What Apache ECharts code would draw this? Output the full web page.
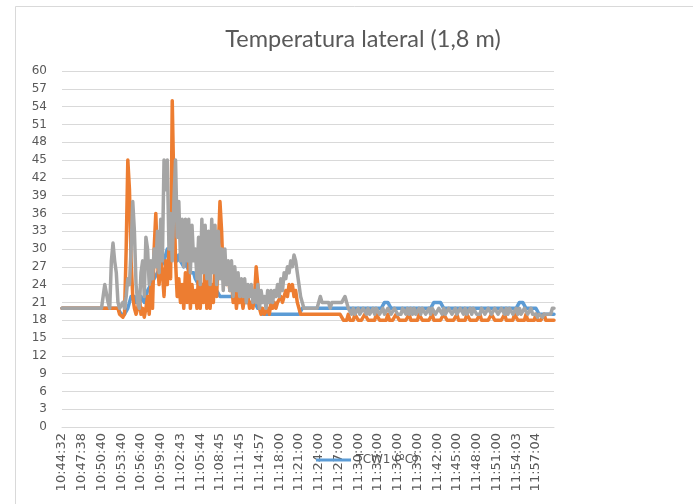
<!DOCTYPE html>
<html>
<head>
<meta charset="utf-8">
<script src="https://cdn.jsdelivr.net/npm/echarts@6/dist/echarts.min.js"></script>
<style>html,body{margin:0;padding:0;background:#fff;}#c{width:693px;height:504px;}</style>
</head>
<body>
<div id="c"></div>
<script>
// Tick labels shown on the time axis (one every 12 samples)
const timeLabels = ['10:44:32','10:47:38','10:50:40','10:53:40','10:56:40','10:59:40','11:02:43','11:05:44','11:08:45','11:11:45','11:14:57','11:18:00','11:21:00','11:24:00','11:27:00','11:30:00','11:33:00','11:36:00','11:39:00','11:42:00','11:45:00','11:48:00','11:51:00','11:54:03','11:57:04'];
const samplesPerLabel = 12;

const seriesNames = ['TCW1 (ºC)', 'TCW2 (ºC)', 'TCW3 (ºC)'];

// TCW1 (blue)
const tcw1 = [
20,20,20,20,20,20,20,20,20,20,20,20,20,20,20,20,20,20,20,20,
20,20,20,20,20,20,20,20,20,20,20,20,20,20,20,20,19,19,19,19,
20,21,22,22,22,21,22,21,22,22,21,22,23,23,24,24,25,25,26,26,
27,27,28,29,30,30,29,29,30,29,28,29,28,28,27,28,27,27,26,26,
26,25,25,24,24,24,24,24,24,24,23,24,23,23,23,23,22,22,22,22,
22,22,22,22,22,22,22,22,22,22,22,21,21,21,21,21,21,21,21,20,
20,20,19,19,19,19,19,19,19,19,19,19,19,19,19,19,19,19,19,19,
19,19,19,19,19,19,20,20,20,20,20,20,20,20,20,20,20,20,20,20,
20,20,20,20,20,20,20,20,20,20,20,20,20,20,20,20,20,20,20,20,
20,20,20,20,20,20,20,20,20,20,20,20,20,20,20,20,21,21,21,21,
20,20,20,20,20,20,20,20,20,20,20,20,20,20,20,20,20,20,20,20,
20,20,20,20,20,20,21,21,21,21,21,21,20,20,20,20,20,20,20,20,
20,20,20,20,20,20,20,20,20,20,20,20,20,20,20,20,20,20,20,20,
20,20,20,20,20,20,20,20,20,20,20,20,20,20,20,20,20,20,21,21,
21,21,20,20,20,20,20,20,20,20,19,19,19,19,19,19,19,19,19,19];

// TCW2 (orange)
const tcw2 = [
20,20,20,20,20,20,20,20,20,20,20,20,20,20,20,20,20,20,20,20,
20,20,20,20,20,20,20,20,20,20,20,20,20,20,20,19,19,18.5,19,30,
45,40,28,22,20,19,20,22,19,20,18.5,20,22,19,24,20,30,36,28,24,
28,26,22,28,24,30,25,55,40,28,22,25,21,24,20,26,21,28,20,24,
21,23,20,26,20,24,21,28,20,25,20,24,21,28,22,30,38,33,25,27,
24,26,23,25,21,24,20,23,21,22,20,22,21,22,20,21,20,22,27,24,
20,19,20,19,19.5,20,19,21,20,21,20,21,21,22,21,22,23,22,24,23,
24,22,23,21,20,19,19,19,19,19,19,19,19,19,19,19,19,19,19,19,
19,19,19,19,19,19,19,19,19,19,19,18,18,18,19,18,18,18,19,19,
18,18,18,18,19,19,18,18,18,18,18,19,19,18,18,18,18,18,19,18,
18,18,18,19,19,18,18,18,18,18,18,19,18,18,18,18,18,19,19,18,
18,18,18,18,18,19,18,18,18,18,18,18,19,19,18,18,18,18,18,18,
19,18,18,18,18,18,19,19,18,18,18,18,18,18,19,18,18,18,18,18,
18,19,19,18,18,18,18,18,18,19,18,18,18,18,18,19,19,18,18,18,
18,18,19,18,18,18,18,18,19,18,18,18,18,19,18,18,18,18,18,18];

// TCW3 (grey)
const tcw3 = [
20,20,20,20,20,20,20,20,20,20,20,20,20,20,20,20,20,20,20,20,
20,20,20,20,20,22,24,24,21,20,28,31,28,26,21,20,20,21,20,22,
25,24,30,38,33,24,21,20,26,28,22,32,30,24,28,25,30,27,33,26,
35,28,45,40,45,30,36,28,38,45,32,38,28,35,27,35,28,35,26,34,
28,30,25,32,24,35,26,34,25,33,24,35,26,34,24,33,25,30,23,30,
24,28,23,28,22,27,23,26,22,25,22,25,21,24,22,24,21,23,21,24,
20,23,21,22,20,23,21,23,21,23,22,24,22,25,23,26,25,27,26,28,
27,29,28,26,24,22,21,20,20,20,20,20,20,20,20,20,21,22,21,21,
21,21,21,20,21,21,21,21,21,21,21,21,22,21,20,20,19,20,19,19,
20,19,19,20,20,19,20,19,19,20,19,20,20,19,19,20,19,19,20,20,
19,19,20,20,19,19,19,20,20,19,20,19,20,19,20,19,19,20,19,20,
20,19,19,20,19,20,20,19,19,20,20,19,20,19,19,20,20,19,19,20,
19,19,20,20,19,20,19,19,20,19,20,20,19,19,19,20,20,19,19,20,
20,19,19,20,20,19,19,20,20,19,20,19,20,20,19,19,20,19,20,19,
19,20,20,19,19,20,19,19,19,18.5,19,19,18.5,19,19,19,19,19,20,20];

const yMin = 0, yMax = 60, yStep = 3;

const categories = timeLabels.flatMap(function (l) {
  const a = [l];
  for (let k = 1; k < samplesPerLabel; k++) a.push('');
  return a;
});

const chart = echarts.init(document.getElementById('c'), null, {renderer: 'canvas'});
const txt = '#595959';
const mk = function (name, data, color) {
  return {
    name: name, type: 'line', data: data, showSymbol: false, symbol: 'none',
    lineStyle: {color: color, width: 3.5, join: 'round', cap: 'round'},
    itemStyle: {color: color},
    animation: false
  };
};
chart.setOption({
  animation: false,
  backgroundColor: '#ffffff',
  title: {
    text: 'Temperatura lateral (1,8 m)',
    left: 358, top: 22, textAlign: 'center',
    textStyle: {fontFamily: 'Lato', fontSize: 23.5, fontWeight: 'normal', color: txt}
  },
  graphic: [{
    type: 'rect', silent: true, z: -1,
    shape: {x: 15.5, y: 6.5, width: 720, height: 560},
    style: {fill: 'none', stroke: '#d9d9d9', lineWidth: 1}
  }],
  legend: {
    data: [{name: seriesNames[0], icon: 'rect'}],
    left: 311, top: 449,
    itemWidth: 35, itemHeight: 3, itemGap: 4,
    textStyle: {fontFamily: 'DejaVu Sans', fontSize: 12, color: txt}
  },
  grid: {left: 62, top: 71, width: 492, height: 356, containLabel: false},
  xAxis: {
    type: 'category', data: categories, boundaryGap: false,
    axisTick: {show: false},
    axisLine: {lineStyle: {color: '#d9d9d9', width: 1}},
    axisLabel: {interval: samplesPerLabel - 1, rotate: 90, margin: 6, color: txt,
      fontFamily: 'DejaVu Sans', fontSize: 13}
  },
  yAxis: {
    type: 'value', min: yMin, max: yMax, interval: yStep,
    axisLine: {show: false}, axisTick: {show: false},
    axisLabel: {margin: 15, color: txt, fontFamily: 'DejaVu Sans', fontSize: 12},
    splitLine: {lineStyle: {color: '#d9d9d9', width: 1}}
  },
  series: [
    mk(seriesNames[0], tcw1, '#5b9bd5'),
    mk(seriesNames[1], tcw2, '#ed7d31'),
    mk(seriesNames[2], tcw3, '#a5a5a5')
  ]
});
</script>
</body>
</html>
